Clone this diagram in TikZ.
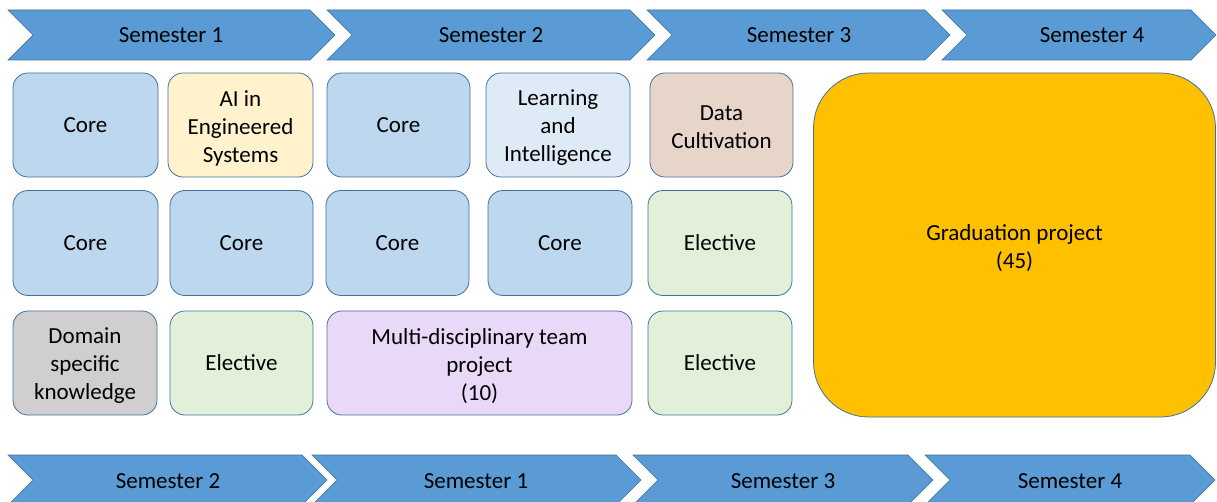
\documentclass[tikz,border=0pt]{standalone}
\usepackage{fontspec}
\setmainfont{Carlito}
\definecolor{chevfill}{HTML}{5B9BD5}
\definecolor{edge}{HTML}{41719C}
\definecolor{corefill}{HTML}{BDD7EE}
\definecolor{aifill}{HTML}{FFF2CC}
\definecolor{learnfill}{HTML}{DEEBF7}
\definecolor{datafill}{HTML}{E8D5CA}
\definecolor{electfill}{HTML}{E2F0D9}
\definecolor{domainfill}{HTML}{D0CECE}
\definecolor{teamfill}{HTML}{EAD8F8}
\definecolor{gradfill}{HTML}{FFC000}
% chevron: left x, right (tip) x, top y, bottom y
\newcommand{\semchev}[4]{%
  \path[chev] (#1,#3) -- ({#2-25},#3) -- (#2,{(#3+#4)/2}) -- ({#2-25},#4)
    -- (#1,#4) -- ({#1+25},{(#3+#4)/2}) -- cycle;}
\tikzset{
  chev/.style={fill=chevfill, draw=edge, line width=0.6pt, line join=miter},
  semlabel/.style={anchor=base, inner sep=0pt, font=\fontsize{23}{27}\selectfont},
  course/.style={draw=edge, line width=0.8pt, rounded corners=15pt,
    align=center, inner sep=0pt, font=\fontsize{23}{28}\selectfont},
  boxtext/.style={align=center, inner sep=0pt, font=\fontsize{23}{28}\selectfont},
}
\begin{document}
\begin{tikzpicture}[x=1pt, y=-1pt]
\useasboundingbox (0,0) rectangle (1217,502);

% top timeline
\semchev{8}{335}{10}{60}
\semchev{327}{655}{10}{60}
\semchev{647}{950}{10}{60}
\semchev{942}{1216}{10}{60}
\node[semlabel] (t1) at (171,43) {Semester 1};
\node[semlabel] (t2) at (491,43) {Semester 2};
\node[semlabel] (t3) at (799,43) {Semester 3};
\node[semlabel] (t4) at (1092,43) {Semester 4};

% bottom timeline
\semchev{8}{327}{455}{505}
\semchev{312}{641}{455}{505}
\semchev{633}{933}{455}{505}
\semchev{925}{1215}{455}{505}
\node[semlabel] (b1) at (168,488) {Semester 2};
\node[semlabel] (b2) at (476,488) {Semester 1};
\node[semlabel] (b3) at (783,488) {Semester 3};
\node[semlabel] (b4) at (1070,488) {Semester 4};

% row 1
\node[course, fill=corefill, minimum width=145pt, minimum height=104pt] (r1a) at (85.5,125) {Core};
\node[course, fill=aifill, minimum width=145pt, minimum height=104pt] (r1b) at (240.5,125) {};
\node[boxtext] (r1bt) at ([yshift=-3pt]r1b.center) {AI in\\Engineered\\Systems};
\node[course, fill=corefill, minimum width=143pt, minimum height=104pt] (r1c) at (398.5,125) {Core};
\node[course, fill=learnfill, minimum width=144pt, minimum height=104pt] (r1d) at (558,125) {};
\node[boxtext] (r1dt) at ([yshift=-3pt]r1d.center) {Learning\\and\\Intelligence};
\node[course, fill=datafill, minimum width=143pt, minimum height=104pt] (r1e) at (721.5,125) {};
\node[boxtext] (r1et) at ([yshift=-2pt]r1e.center) {Data\\Cultivation};

% row 2
\node[course, fill=corefill, minimum width=145pt, minimum height=105pt] (r2a) at (85.5,243) {Core};
\node[course, fill=corefill, minimum width=143pt, minimum height=105pt] (r2b) at (241.5,243) {Core};
\node[course, fill=corefill, minimum width=143pt, minimum height=105pt] (r2c) at (397.5,243) {Core};
\node[course, fill=corefill, minimum width=144pt, minimum height=105pt] (r2d) at (560,243) {Core};
\node[course, fill=electfill, minimum width=144pt, minimum height=105pt] (r2e) at (720,243) {Elective};

% row 3
\node[course, fill=domainfill, minimum width=144pt, minimum height=104pt] (r3a) at (85,363) {};
\node[boxtext] (r3at) at ([yshift=-3pt]r3a.center) {Domain\\specific\\knowledge};
\node[course, fill=electfill, minimum width=143pt, minimum height=104pt] (r3b) at (241.5,363) {Elective};
\node[course, fill=teamfill, minimum width=305pt, minimum height=104pt] (r3c) at (479.5,363) {};
\node[boxtext] (r3ct) at ([yshift=-3pt]r3c.center) {Multi-disciplinary team\\project\\(10)};
\node[course, fill=electfill, minimum width=144pt, minimum height=104pt] (r3e) at (720,363) {Elective};

% graduation project
\node[course, fill=gradfill, rounded corners=55pt, minimum width=402pt, minimum height=344pt] (grad) at (1014.5,245) {};
\node[boxtext] (gradt) at ([yshift=-3pt]grad.center) {Graduation project\\(45)};
\end{tikzpicture}
\end{document}
